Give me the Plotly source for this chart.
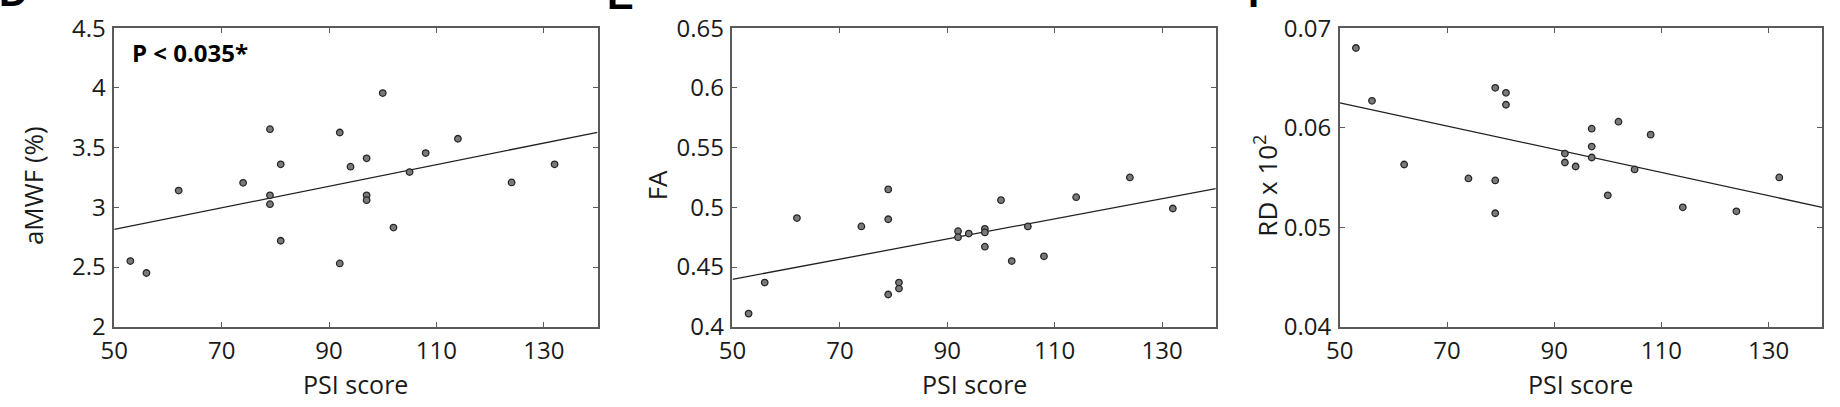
import plotly.graph_objects as go

# ---- data ----
psi_amwf = [53, 56, 62, 74, 79, 79, 79, 81, 81, 92, 92, 94, 97, 97, 97, 100, 102, 105, 108, 114, 124, 132]
amwf = [2.55, 2.45, 3.14, 3.205, 3.654, 3.10, 3.026, 3.36, 2.72, 3.626, 2.53, 3.34, 3.41, 3.10, 3.06, 3.956, 2.83, 3.295, 3.454, 3.574, 3.208, 3.36]

psi_fa = [53, 56, 62, 74, 79, 79, 79, 81, 81, 92, 92, 94, 97, 97, 97, 100, 102, 105, 108, 114, 124, 132]
fa = [0.411, 0.437, 0.491, 0.484, 0.515, 0.490, 0.427, 0.437, 0.432, 0.480, 0.475, 0.478, 0.482, 0.479, 0.467, 0.506, 0.455, 0.484, 0.459, 0.5085, 0.525, 0.499]

psi_rd = [53, 56, 62, 74, 79, 79, 79, 81, 81, 92, 92, 94, 97, 97, 97, 100, 102, 105, 108, 114, 124, 132]
rd = [0.0680, 0.0627, 0.0563, 0.0549, 0.0640, 0.0547, 0.0514, 0.0635, 0.0623, 0.0574, 0.0565, 0.0561, 0.0599, 0.0581, 0.0570, 0.0532, 0.0606, 0.0558, 0.0593, 0.0520, 0.0516, 0.0550]

fit_x = [50, 140]
fit_amwf = [2.815, 3.628]
fit_fa = [0.4397, 0.5157]
fit_rd = [0.0625, 0.0520]

x_ticks = [50, 70, 90, 110, 130]
amwf_ticks = [2, 2.5, 3, 3.5, 4, 4.5]
amwf_ticklabels = ["2", "2.5", "3", "3.5", "4", "4.5"]
fa_ticks = [0.4, 0.45, 0.5, 0.55, 0.6, 0.65]
fa_ticklabels = ["0.4", "0.45", "0.5", "0.55", "0.6", "0.65"]
rd_ticks = [0.04, 0.05, 0.06, 0.07]
rd_ticklabels = ["0.04", "0.05", "0.06", "0.07"]

W, H = 1840, 407
FONT = "Open Sans"
AX = "#5a5a5a"
TXT = "#1a1a1a"

fig = go.Figure()

panels = [
    (psi_amwf, amwf, fit_amwf, "x", "y"),
    (psi_fa, fa, fit_fa, "x2", "y2"),
    (psi_rd, rd, fit_rd, "x3", "y3"),
]
for xs, ys, fy, xa, ya in panels:
    fig.add_trace(go.Scatter(x=fit_x, y=fy, mode="lines", xaxis=xa, yaxis=ya,
                             line=dict(color="#222222", width=1.3), showlegend=False))
    fig.add_trace(go.Scatter(x=xs, y=ys, mode="markers", xaxis=xa, yaxis=ya,
                             marker=dict(size=6.5, color="#7a7a7a",
                                         line=dict(color="#262626", width=1.3)),
                             showlegend=False))

ytop = 1 - 11 / H
ybot = 1 - 336 / H
xdoms = [(101, 588), (724, 1211), (1336, 1822)]

common_x = dict(range=[50, 140], tickvals=x_ticks, ticks="inside", ticklen=5,
                tickcolor=AX, tickwidth=1.2, showline=True, linecolor=AX, linewidth=1.5,
                mirror="ticks", showgrid=False, zeroline=False,
                tickfont=dict(family=FONT, size=24, color=TXT), ticklabelstandoff=2,
                ticklabeloverflow="allow")
common_y = dict(ticks="inside", ticklen=5, tickcolor=AX, tickwidth=1.2, showline=True,
                linecolor=AX, linewidth=1.5, mirror="ticks", showgrid=False, zeroline=False,
                tickfont=dict(family=FONT, size=24, color=TXT), ticklabelstandoff=2,
                ticklabeloverflow="allow")

layout = dict(width=W, height=H, margin=dict(l=0, r=0, t=0, b=0),
              paper_bgcolor="white", plot_bgcolor="white", showlegend=False)

ycfg = [
    (amwf_ticks, amwf_ticklabels, [2, 4.5]),
    (fa_ticks, fa_ticklabels, [0.4, 0.65]),
    (rd_ticks, rd_ticklabels, [0.04, 0.07]),
]
for i, ((x0, x1), (tv, tt, rng)) in enumerate(zip(xdoms, ycfg)):
    suffix = "" if i == 0 else str(i + 1)
    span = rng[1] - rng[0]
    layout["xaxis" + suffix] = dict(common_x, domain=[x0 / W, x1 / W],
                                    anchor="y" + suffix)
    layout["yaxis" + suffix] = dict(common_y, domain=[ybot, ytop],
                                    range=[rng[0] - span * 1e-6, rng[1] + span * 1e-6],
                                    tickvals=tv, ticktext=tt, anchor="x" + suffix)

fig.update_layout(**layout)

anns = []
title_font = dict(family=FONT, size=25, color=TXT)
ytitle_font = dict(family=FONT, size=26, color=TXT)
for (x0, x1) in xdoms:
    anns.append(dict(text="PSI score", x=(x0 + x1) / 2 / W, y=1 - 398 / H,
                     xref="paper", yref="paper", showarrow=False,
                     xanchor="center", yanchor="middle", font=title_font))
ylabels = [("aMWF (%)", 19), ("FA", 648), ("RD x 10<sup>2</sup>", 1262)]
for txt, xc in ylabels:
    anns.append(dict(text=txt, x=xc / W, y=1 - 182 / H, xref="paper", yref="paper",
                     showarrow=False, textangle=-90, xanchor="center", yanchor="middle",
                     font=ytitle_font))
anns.append(dict(text="<b>P < 0.035*</b>", x=117 / W, y=1 - 37 / H, xref="paper",
                 yref="paper", showarrow=False, xanchor="left", yanchor="middle",
                 font=dict(family=FONT, size=24, color="black")))
# cropped panel letters at the top edge (only their bottoms show)
for letter, xp, anchor, yoff in [("D", 16, "right", 2), ("E", 596, "left", -1), ("F", 1241, "left", 1)]:
    anns.append(dict(text="<b>" + letter + "</b>", x=xp / W, y=1 + yoff / H,
                     xref="paper", yref="paper", showarrow=False, xanchor=anchor,
                     yanchor="bottom", font=dict(family="Liberation Sans", size=40, color="black")))
fig.update_layout(annotations=anns)

fig.write_html("out.html")
